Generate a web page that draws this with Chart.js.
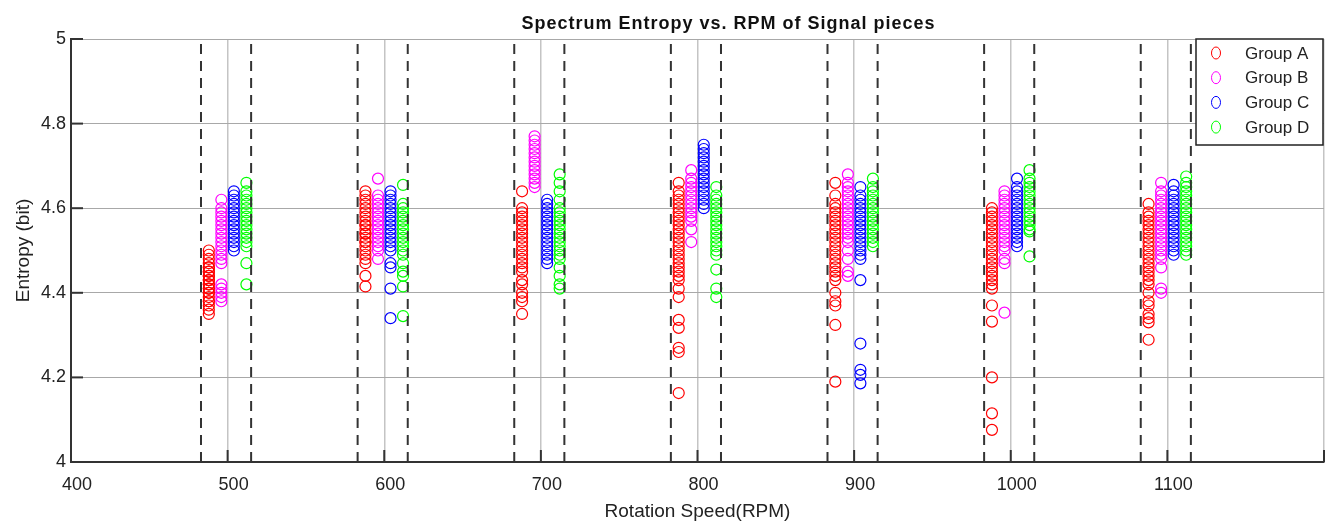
<!DOCTYPE html>
<html>
<head>
<meta charset="utf-8">
<script src="https://cdn.jsdelivr.net/npm/chart.js@4"></script>
<style>
  body { margin: 0; background: #fff; }
  #wrap { width: 1336px; height: 524px; }
</style>
</head>
<body>
<div id="wrap"><canvas id="entropyChart" width="1336" height="524"></canvas></div>
<script>
// RPM centres of the measurement groups
const rpms = [500, 600, 700, 800, 900, 1000, 1100];
// each group is plotted slightly shifted from the centre rpm
const groupNames = ['Group A', 'Group B', 'Group C', 'Group D'];
const groupShift = [-12, -4, 4, 12];
const groupColors = ['#ff0000', '#ff00ff', '#0000ff', '#00ff00'];
// dashed boundaries around every rpm group
const boundaries = [483, 515, 583, 615, 683, 715, 783, 815, 883, 915, 983, 1015, 1083, 1115];
const xTicks = [400, 500, 600, 700, 800, 900, 1000, 1100, 1200];
const yTicks = [4, 4.2, 4.4, 4.6, 4.8, 5];

// entropy values per rpm (one row per rpm in the rpms order)
const groupA = [
    [4.35, 4.36, 4.37, 4.38, 4.38, 4.39, 4.40, 4.40, 4.41, 4.41, 4.42, 4.42, 4.43, 4.43, 4.44, 4.44, 4.45, 4.45, 4.46, 4.46, 4.47, 4.48, 4.49, 4.50],
    [4.415, 4.44, 4.47, 4.48, 4.49, 4.50, 4.51, 4.52, 4.52, 4.53, 4.54, 4.54, 4.55, 4.56, 4.56, 4.57, 4.58, 4.59, 4.60, 4.61, 4.62, 4.63, 4.64],
    [4.35, 4.38, 4.39, 4.40, 4.42, 4.43, 4.45, 4.46, 4.47, 4.48, 4.49, 4.50, 4.51, 4.52, 4.53, 4.54, 4.55, 4.56, 4.57, 4.58, 4.59, 4.60, 4.64],
    [4.163, 4.26, 4.27, 4.317, 4.336, 4.39, 4.41, 4.43, 4.44, 4.45, 4.46, 4.47, 4.48, 4.49, 4.50, 4.51, 4.52, 4.53, 4.54, 4.55, 4.56, 4.57, 4.58, 4.59, 4.60, 4.61, 4.62, 4.63, 4.64, 4.66],
    [4.19, 4.324, 4.37, 4.38, 4.40, 4.43, 4.44, 4.45, 4.46, 4.47, 4.48, 4.49, 4.50, 4.51, 4.52, 4.53, 4.54, 4.55, 4.56, 4.57, 4.58, 4.59, 4.60, 4.61, 4.63, 4.66],
    [4.076, 4.115, 4.20, 4.332, 4.37, 4.41, 4.42, 4.43, 4.44, 4.45, 4.46, 4.47, 4.48, 4.49, 4.50, 4.51, 4.52, 4.53, 4.54, 4.55, 4.56, 4.57, 4.58, 4.59, 4.60],
    [4.289, 4.33, 4.34, 4.35, 4.37, 4.38, 4.40, 4.42, 4.43, 4.44, 4.45, 4.46, 4.47, 4.48, 4.49, 4.50, 4.51, 4.52, 4.53, 4.54, 4.55, 4.56, 4.57, 4.58, 4.59, 4.61]
];
const groupB = [
    [4.38, 4.39, 4.40, 4.41, 4.42, 4.47, 4.48, 4.49, 4.50, 4.51, 4.52, 4.53, 4.54, 4.55, 4.56, 4.57, 4.58, 4.59, 4.60, 4.62],
    [4.48, 4.50, 4.51, 4.52, 4.53, 4.54, 4.55, 4.56, 4.57, 4.58, 4.59, 4.60, 4.61, 4.62, 4.63, 4.67],
    [4.65, 4.66, 4.67, 4.68, 4.69, 4.70, 4.71, 4.72, 4.73, 4.74, 4.75, 4.76, 4.77],
    [4.52, 4.55, 4.57, 4.58, 4.59, 4.60, 4.61, 4.62, 4.63, 4.64, 4.65, 4.66, 4.67, 4.69],
    [4.44, 4.45, 4.48, 4.50, 4.52, 4.53, 4.54, 4.55, 4.56, 4.57, 4.58, 4.59, 4.60, 4.61, 4.62, 4.63, 4.64, 4.65, 4.66, 4.68],
    [4.353, 4.47, 4.48, 4.50, 4.51, 4.52, 4.53, 4.54, 4.55, 4.56, 4.57, 4.58, 4.59, 4.60, 4.61, 4.62, 4.63, 4.64],
    [4.40, 4.41, 4.46, 4.48, 4.49, 4.50, 4.51, 4.52, 4.53, 4.54, 4.55, 4.56, 4.57, 4.58, 4.59, 4.60, 4.61, 4.62, 4.63, 4.64, 4.66]
];
const groupC = [
    [4.50, 4.51, 4.52, 4.53, 4.54, 4.55, 4.56, 4.57, 4.58, 4.59, 4.60, 4.61, 4.62, 4.63, 4.64],
    [4.34, 4.41, 4.46, 4.47, 4.50, 4.51, 4.52, 4.53, 4.54, 4.55, 4.56, 4.57, 4.58, 4.59, 4.60, 4.61, 4.62, 4.63, 4.64],
    [4.47, 4.48, 4.49, 4.50, 4.51, 4.52, 4.53, 4.54, 4.55, 4.56, 4.57, 4.58, 4.59, 4.60, 4.61, 4.62],
    [4.60, 4.61, 4.62, 4.63, 4.64, 4.65, 4.66, 4.67, 4.68, 4.69, 4.70, 4.71, 4.72, 4.73, 4.74, 4.75],
    [4.186, 4.206, 4.218, 4.28, 4.43, 4.48, 4.49, 4.50, 4.51, 4.52, 4.53, 4.54, 4.55, 4.56, 4.57, 4.58, 4.59, 4.60, 4.61, 4.62, 4.63, 4.65],
    [4.51, 4.52, 4.53, 4.54, 4.55, 4.56, 4.57, 4.58, 4.59, 4.60, 4.61, 4.62, 4.63, 4.64, 4.65, 4.67],
    [4.49, 4.50, 4.51, 4.52, 4.53, 4.54, 4.55, 4.56, 4.57, 4.58, 4.59, 4.60, 4.61, 4.62, 4.63, 4.64, 4.655]
];
const groupD = [
    [4.42, 4.47, 4.51, 4.52, 4.53, 4.54, 4.55, 4.56, 4.57, 4.58, 4.59, 4.60, 4.61, 4.62, 4.63, 4.64, 4.66],
    [4.345, 4.415, 4.44, 4.45, 4.47, 4.49, 4.50, 4.51, 4.52, 4.53, 4.54, 4.55, 4.56, 4.57, 4.58, 4.59, 4.60, 4.61, 4.655],
    [4.41, 4.42, 4.44, 4.46, 4.48, 4.49, 4.50, 4.51, 4.52, 4.53, 4.54, 4.55, 4.56, 4.57, 4.58, 4.59, 4.60, 4.62, 4.64, 4.66, 4.68],
    [4.39, 4.41, 4.455, 4.49, 4.50, 4.51, 4.52, 4.53, 4.54, 4.55, 4.56, 4.57, 4.58, 4.59, 4.60, 4.61, 4.62, 4.63, 4.65],
    [4.51, 4.52, 4.53, 4.54, 4.55, 4.56, 4.57, 4.58, 4.59, 4.60, 4.61, 4.62, 4.63, 4.64, 4.65, 4.67],
    [4.486, 4.545, 4.55, 4.56, 4.57, 4.58, 4.59, 4.60, 4.61, 4.62, 4.63, 4.64, 4.65, 4.66, 4.67, 4.69],
    [4.49, 4.50, 4.51, 4.52, 4.53, 4.54, 4.55, 4.56, 4.57, 4.58, 4.59, 4.60, 4.61, 4.62, 4.63, 4.64, 4.65, 4.66, 4.675]
];

const FONT = "'Liberation Sans', Arial, sans-serif";
const allGroups = [groupA, groupB, groupC, groupD];

// scatter datasets, one per group
const datasets = allGroups.map((grp, g) => ({
    label: groupNames[g],
    data: rpms.flatMap((r, i) => grp[i].map(v => ({ x: r + groupShift[g], y: v }))),
    pointStyle: 'circle',
    pointRadius: 5.5,
    pointBorderWidth: 1.2,
    borderColor: groupColors[g],
    backgroundColor: 'rgba(0,0,0,0)',
    showLine: false,
    order: 1
}));

// dashed vertical boundary lines
boundaries.forEach(b => {
    datasets.push({
        label: '',
        data: [{ x: b, y: 4 }, { x: b, y: 5 }],
        showLine: true,
        borderColor: '#333333',
        borderWidth: 2,
        borderDash: [10, 7],
        pointRadius: 0,
        order: 0
    });
});

// title, inward ticks and the boxed legend drawn by hand
const decorPlugin = {
    id: 'decor',
    afterDraw(chart) {
        const { ctx, chartArea: a, scales } = chart;
        ctx.save();

        // inward tick marks
        ctx.strokeStyle = '#333';
        ctx.lineWidth = 2;
        xTicks.forEach(t => {
            const px = scales.x.getPixelForValue(t);
            ctx.beginPath();
            ctx.moveTo(px, a.bottom);
            ctx.lineTo(px, a.bottom - 12);
            ctx.stroke();
        });
        yTicks.forEach(t => {
            const py = scales.y.getPixelForValue(t);
            ctx.beginPath();
            ctx.moveTo(a.left, py);
            ctx.lineTo(a.left + 12, py);
            ctx.stroke();
        });

        // title
        ctx.fillStyle = '#111';
        ctx.font = 'bold 18px ' + FONT;
        ctx.textAlign = 'center';
        ctx.textBaseline = 'middle';
        ctx.letterSpacing = '1px';
        ctx.fillText('Spectrum Entropy vs. RPM of Signal pieces', a.left + (a.right - a.left) / 2 + 31, 24);
        ctx.letterSpacing = '0px';

        // legend box
        const bw = 127, bh = 106;
        const bx = a.right - bw - 1, by = a.top;
        ctx.fillStyle = '#fff';
        ctx.fillRect(bx, by, bw, bh);
        ctx.strokeStyle = '#222';
        ctx.lineWidth = 1.5;
        ctx.strokeRect(bx, by, bw, bh);
        ctx.font = '17px ' + FONT;
        ctx.textAlign = 'left';
        for (let g = 0; g < groupNames.length; g++) {
            const ry = by + 14 + g * 24.7;
            ctx.strokeStyle = groupColors[g];
            ctx.lineWidth = 1;
            ctx.beginPath();
            ctx.ellipse(bx + 20, ry, 4.5, 6, 0, 0, Math.PI * 2);
            ctx.stroke();
            ctx.fillStyle = '#222';
            ctx.fillText(groupNames[g], bx + 49, ry + 1);
        }
        ctx.restore();
    }
};

const ctx = document.getElementById('entropyChart').getContext('2d');
new Chart(ctx, {
    type: 'scatter',
    data: { datasets },
    options: {
        responsive: false,
        animation: false,
        layout: { padding: { left: 0, right: 4, top: 39, bottom: 0 } },
        plugins: {
            legend: { display: false },
            title: { display: false },
            tooltip: { enabled: false }
        },
        scales: {
            x: {
                type: 'linear',
                min: 400,
                max: 1200,
                afterBuildTicks: s => { s.ticks = xTicks.map(v => ({ value: v })); },
                afterFit: s => { s.height = 62; },
                ticks: {
                    callback: v => (v === 1200 ? '' : v),
                    font: { family: FONT, size: 18 },
                    color: '#222',
                    padding: 12,
                    labelOffset: 6,
                    maxRotation: 0
                },
                grid: { color: '#c4c4c4', lineWidth: 1.5, drawTicks: false },
                border: { display: true, color: '#333', width: 2 },
                title: {
                    display: true,
                    text: 'Rotation Speed(RPM)',
                    font: { family: FONT, size: 19 },
                    color: '#222',
                    padding: { top: 0, bottom: 1 }
                }
            },
            y: {
                min: 4,
                max: 5,
                afterBuildTicks: s => { s.ticks = yTicks.map(v => ({ value: v })); },
                afterFit: s => { s.width = 71; },
                ticks: {
                    callback: v => String(Number(v.toFixed(1))),
                    font: { family: FONT, size: 18 },
                    color: '#222',
                    padding: 5
                },
                grid: { color: '#a8a8a8', lineWidth: 1, drawTicks: false },
                border: { display: true, color: '#333', width: 2 },
                title: {
                    display: true,
                    text: 'Entropy (bit)',
                    font: { family: FONT, size: 19 },
                    color: '#222',
                    padding: { top: 12, bottom: 0 }
                }
            }
        }
    },
    plugins: [decorPlugin]
});
</script>
</body>
</html>
